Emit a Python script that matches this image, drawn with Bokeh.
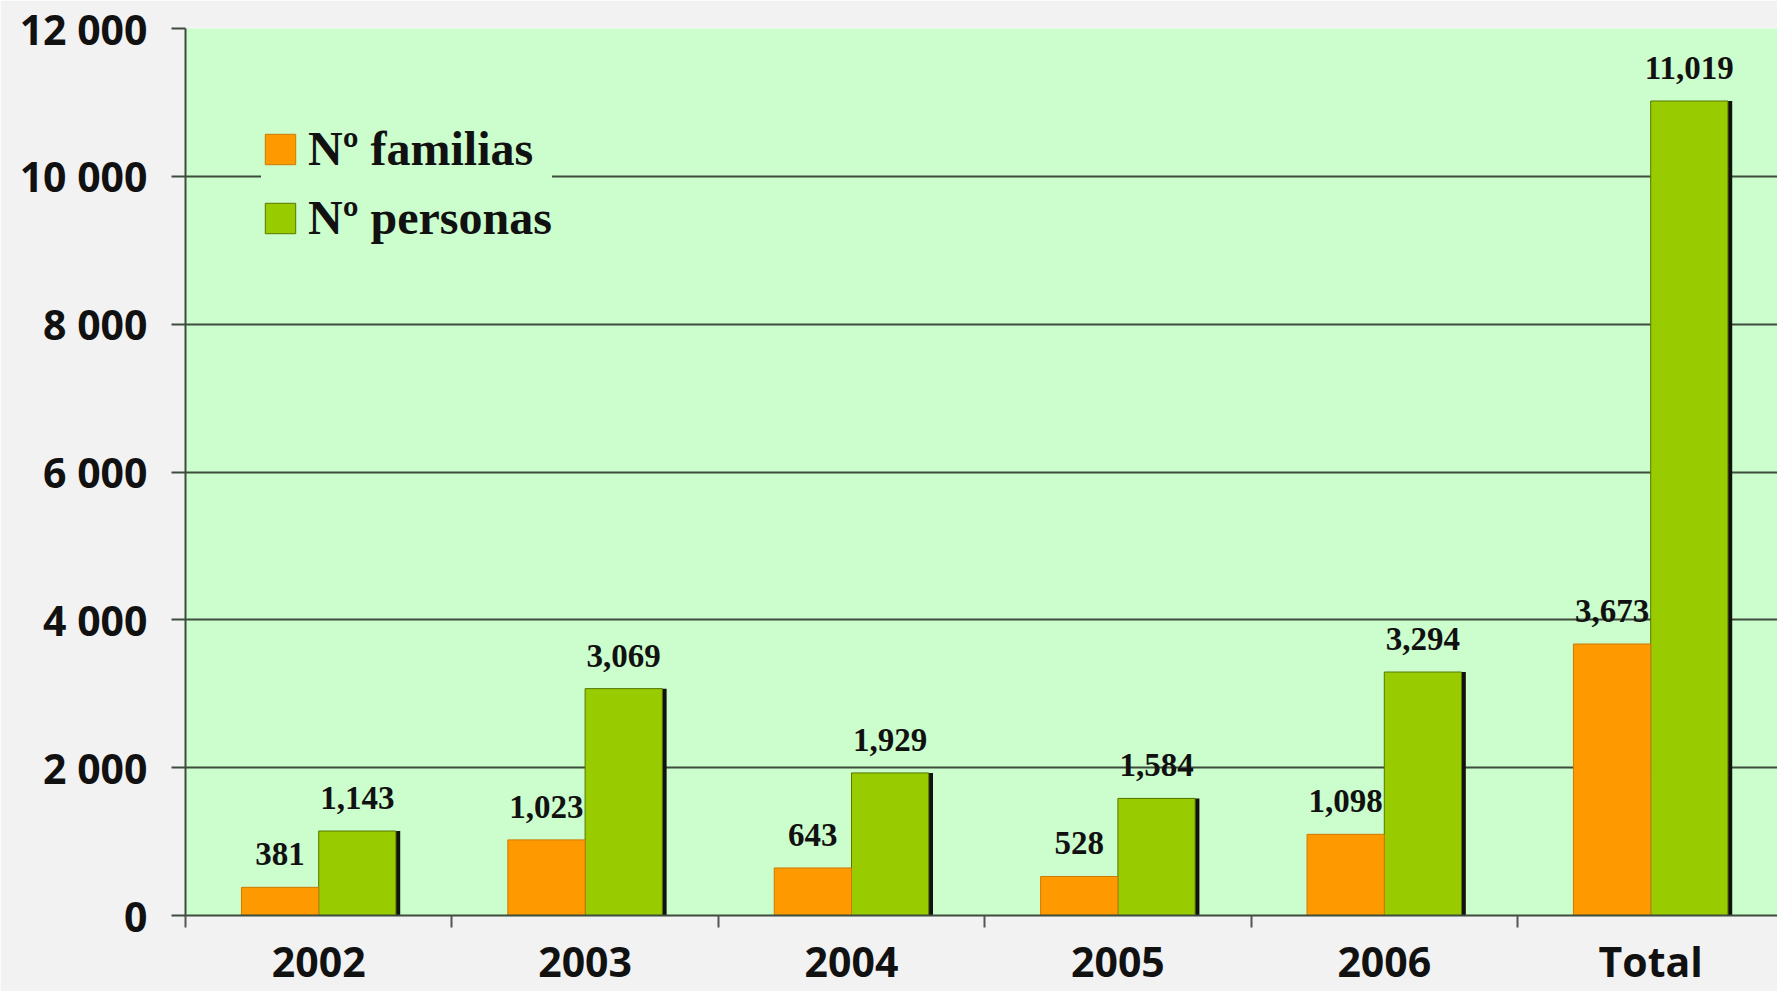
from bokeh.plotting import figure
from bokeh.models import ColumnDataSource, FixedTicker, LabelSet, Legend, LegendItem, Range1d
from bokeh.embed import file_html
from bokeh.resources import INLINE
from bokeh.core.properties import value

# ---- data ----
categories = ["2002", "2003", "2004", "2005", "2006", "Total"]
familias = [381, 1023, 643, 528, 1098, 3673]
personas = [1143, 3069, 1929, 1584, 3294, 11019]
y_ticks = [0, 2000, 4000, 6000, 8000, 10000, 12000]
y_tick_labels = ["0", "2 000", "4 000", "6 000", "8 000", "10 000", "12 000"]
series_names = ["N\u00ba familias", "N\u00ba personas"]

# ---- styles ----
ORANGE = "#ff9900"
GREEN = "#99cc00"
PLOT_BG = "#ccfdcc"
PAGE_BG = "#f2f2f2"
GRID = "#3d4d3d"
BAR_W = 0.29

idx = list(range(len(categories)))
centers = [i + 0.5 for i in idx]
bounds = list(range(len(categories) + 1))

src = ColumnDataSource(dict(
    x_fam=[c - BAR_W / 2 for c in centers],
    x_per=[c + BAR_W / 2 for c in centers],
    x_sh=[c + BAR_W / 2 + 0.016 for c in centers],
    fam=familias,
    per=personas,
    fam_lbl=[f"{v:,}" for v in familias],
    per_lbl=[f"{v:,}" for v in personas],
))

W, H = 1777, 991
p = figure(width=W, height=H, output_backend="svg", toolbar_location=None,
           x_range=Range1d(0, 5.976), y_range=Range1d(0, 12000),
           min_border_left=185, min_border_right=0, min_border_top=28, min_border_bottom=70)
p.background_fill_color = PLOT_BG
p.border_fill_color = PAGE_BG
p.outline_line_color = None

# bars
p.vbar(x="x_sh", top="per", width=BAR_W, bottom=0, source=src,
       fill_color="#111111", line_color=None)
r_per = p.vbar(x="x_per", top="per", width=BAR_W, bottom=0, source=src,
               fill_color=GREEN, line_color="#557700", line_width=1)
r_fam = p.vbar(x="x_fam", top="fam", width=BAR_W, bottom=0, source=src,
               fill_color=ORANGE, line_color="#cc7a00", line_width=1)

# value labels
for xcol, ycol, tcol in [("x_fam", "fam", "fam_lbl"), ("x_per", "per", "per_lbl")]:
    p.add_layout(LabelSet(x=xcol, y=ycol, text=tcol, source=src,
                          text_align="center", text_baseline="alphabetic", y_offset=22,
                          text_font=value("Liberation Serif"), text_font_style="bold",
                          text_font_size="33px", text_color="#111111"))

# grid
p.xgrid.grid_line_color = None
p.ygrid.grid_line_color = GRID
p.ygrid.grid_line_width = 2
p.ygrid.ticker = FixedTicker(ticks=y_ticks)

# y axis
yax = p.yaxis[0]
yax.ticker = FixedTicker(ticks=y_ticks)
yax.major_label_overrides = {t: l for t, l in zip(y_ticks, y_tick_labels)}
yax.major_label_text_font = "Open Sans"
yax.major_label_text_font_style = "bold"
yax.major_label_text_font_size = "41px"
yax.major_label_text_color = "#111111"
yax.axis_line_color = GRID
yax.axis_line_width = 2
yax.major_tick_line_color = GRID
yax.major_tick_line_width = 2
yax.major_tick_in = 0
yax.major_tick_out = 14
yax.minor_tick_line_color = None
yax.major_label_standoff = 24

# x axis: labels at category centres, tick marks at category boundaries
xax = p.xaxis[0]
xax.ticker = FixedTicker(ticks=centers, minor_ticks=bounds)
xax.major_label_overrides = {c: n for c, n in zip(centers, categories)}
xax.major_label_text_font = "Open Sans"
xax.major_label_text_font_style = "bold"
xax.major_label_text_font_size = "41px"
xax.major_label_text_color = "#111111"
xax.axis_line_color = GRID
xax.axis_line_width = 2
xax.major_tick_line_color = None
xax.major_tick_in = 0
xax.major_tick_out = 0
xax.minor_tick_line_color = "#555555"
xax.minor_tick_line_width = 2
xax.minor_tick_in = 0
xax.minor_tick_out = 12
xax.major_label_standoff = 5

# legend
legend = Legend(items=[LegendItem(label=series_names[0], renderers=[r_fam]),
                       LegendItem(label=series_names[1], renderers=[r_per])],
                location=(76, 670), orientation="vertical",
                background_fill_color=PLOT_BG, background_fill_alpha=1.0,
                border_line_color=None,
                glyph_width=38, glyph_height=38, label_height=50,
                label_standoff=9, spacing=14, padding=18, margin=0,
                label_text_font="Liberation Serif", label_text_font_style="bold",
                label_text_font_size="48px", label_text_color="#111111")
p.add_layout(legend, "center")

open("out.html", "w").write(file_html(p, INLINE))
